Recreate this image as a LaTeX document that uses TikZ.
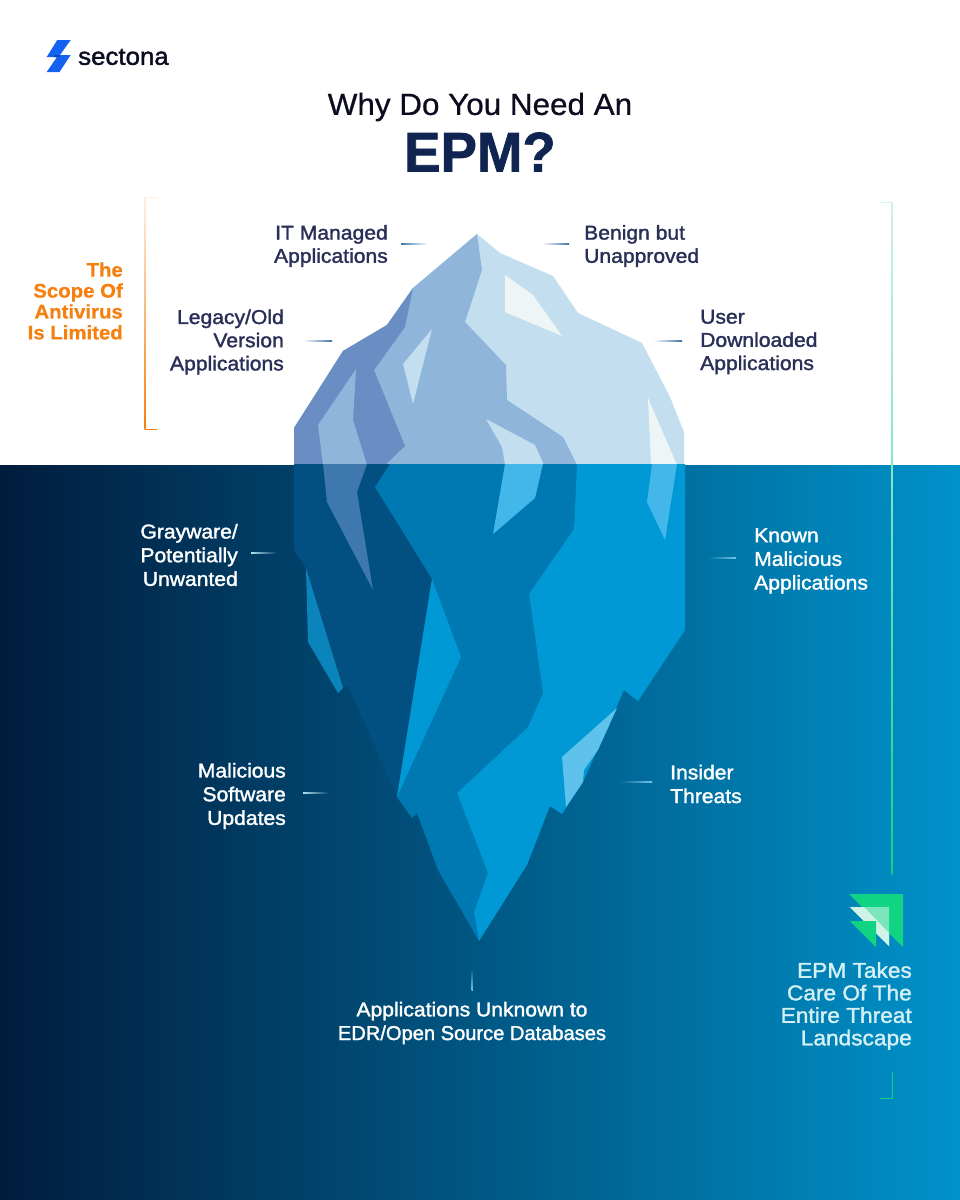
\documentclass[tikz,border=0pt]{standalone}
\usepackage{fontspec}
\usetikzlibrary{calc}
\setmainfont{Liberation Sans}
\newfontfamily\medfont[FakeBold=1.6,FakeStretch=1.055]{Liberation Sans}
\newfontfamily\narrowfont[FakeBold=1.6,FakeStretch=1.0]{Liberation Sans}
\newfontfamily\titlefont[FakeBold=0.7,FakeStretch=1.03]{Liberation Sans}
\newfontfamily\boldfont[FakeBold=1.2,FakeStretch=0.975]{Liberation Sans Bold}
\newfontfamily\orangefont[FakeBold=0.6,FakeStretch=1.04]{Liberation Sans Bold}
\definecolor{navy}{HTML}{2A2F57}
\definecolor{title}{HTML}{0F2450}
\definecolor{orangeT}{HTML}{F57F0F}
\definecolor{bgL}{HTML}{011C3D}
\definecolor{bgR}{HTML}{0092CA}
\definecolor{iLight}{HTML}{C3DFEF}
\definecolor{iMid}{HTML}{8FB5DB}
\definecolor{iDark}{HTML}{6A8EC3}
\definecolor{iWhite}{HTML}{EEF5F6}
\definecolor{uDark}{HTML}{015081}
\definecolor{uMid}{HTML}{0079B3}
\definecolor{uBright}{HTML}{0099D5}
\definecolor{uPatch}{HTML}{43B7E9}
\definecolor{uDarkPatch}{HTML}{3F78AC}
\definecolor{uSide}{HTML}{0A84BB}
\definecolor{greenA}{HTML}{10D384}
\definecolor{greenB}{HTML}{7CE5BC}
\definecolor{greenC}{HTML}{CFF3E6}
\definecolor{tickD}{HTML}{3F74A8}
\definecolor{epmT}{HTML}{D5F0F5}
\definecolor{logoB}{HTML}{1462F0}
\definecolor{ink}{HTML}{0B0C20}
\tikzset{
 x=1pt,y=-1pt,
 dark label/.style={font=\medfont\fontsize{20}{23.2}\selectfont,text=navy,inner sep=0pt,align=#1},
 lite label/.style={font=\medfont\fontsize{20}{23.7}\selectfont,text=white,inner sep=0pt,align=#1},
}
\begin{document}
\begin{tikzpicture}
\useasboundingbox (0,0) rectangle (960,1200);
\fill[white] (0,0) rectangle (960,1200);
\shade[left color=bgL,right color=bgR] (0,465) rectangle (960,1200);

% above water
\fill[iLight] (477,234)--(500,253)--(553,276)--(578,313)--(642,343)--(670,397)--(684,432)--(684,465)--(294,465)--(294,428)--(343,351)--(387,325)--(413,288)--cycle;
\fill[iMid] (477,234)--(482,270)--(465,322)--(506,365)--(507,400)--(563,437)--(577,465)--(294,465)--(294,428)--(343,351)--(387,325)--(413,288)--cycle;
\fill[iDark] (413,288)--(387,325)--(343,351)--(294,428)--(294,465)--(385,465)--(405,446)--(374,370)--(405,327)--cycle;
\fill[iMid] (356,369)--(318,425)--(323,465)--(367,465)--(353,420)--cycle;
\fill[iLight] (432,329)--(403,364)--(413,404)--cycle;
\fill[iWhite] (505,275)--(533,295)--(562,336)--(505,312)--cycle;
\fill[iLight] (486,419)--(535,445)--(544,465)--(505,465)--(502,447)--cycle;
\fill[iWhite] (648,398)--(677,465)--(651,465)--cycle;

% below water
\fill[uDark] (294,464)--(294,550)--(306,568)--(343,688)--(348,685)--(397,797)--(432,579)--(375,487)--(390,464)--cycle;
\fill[uSide] (306,568)--(308,642)--(338,693)--(343,688)--cycle;
\fill[uMid] (390,464)--(375,487)--(432,579)--(397,797)--(412,818)--(417,813)--(438,870)--(479,941)--(474,912)--(488,873)--(457,793)--(528,727)--(543,693)--(529,594)--(574,529)--(577,464)--cycle;
\fill[uBright] (432,579)--(461,657)--(397,797)--cycle;
\fill[uBright] (577,464)--(685,464)--(685,630)--(638,701)--(624,690)--(583,782)--(562,814)--(550,806)--(527,865)--(479,941)--(474,912)--(488,873)--(457,793)--(528,727)--(543,693)--(529,594)--(574,529)--cycle;
\fill[uDarkPatch] (323,464)--(367,464)--(357,492)--(373,590)--(327,502)--cycle;
\fill[uPatch] (505,464)--(543,464)--(535,498)--(493,534)--cycle;
\fill[uPatch] (652,464)--(677,464)--(665,540)--(647,502)--cycle;
\fill[uPatch!85!white] (617,708)--(562,757)--(566,807)--(583,782)--(584,770)--(598,750)--cycle;

% logo
\fill[logoB] (57.3,40)--(70.7,40)--(60,55)--(70.7,55)--(59.5,72)--(46.7,72)--(57,57)--(46.7,57)--cycle;
\fill[logoB!75!black] (54.5,55)--(60,55)--(59,57)--(53.5,57)--cycle;
\node[anchor=west,inner sep=0pt,text=ink] (logo) at (78,57) {\fontsize{24.5}{24}\selectfont\medfont sectona};

% title
\node[inner sep=0pt,text=ink] (t1) at (480,107) {\titlefont\fontsize{30.5}{30}\selectfont Why Do You Need An};
\node[inner sep=0pt,text=title] (t2) at (480,152) {\boldfont\fontsize{56}{56}\selectfont EPM?};

% orange side
\node[anchor=east,inner sep=0pt,text=orangeT,align=right,font=\fontsize{19.6}{20.9}\selectfont\orangefont] (scope) at (123,301) {The\\Scope Of\\Antivirus\\Is Limited};
\coordinate (oa) at (157,197); \coordinate (ob) at (145,197); \coordinate (oc) at (145,429); \coordinate (od) at (157,429);
\shade[top color=orangeT!12!white,bottom color=orangeT] (144.5,197) rectangle (145.7,429);
\fill[orangeT!12!white] ($(ob)+(0,-0.5)$) rectangle ($(oa)+(0,0.5)$);
\draw[orangeT,line width=1pt] (oc)--(od);

% right side
\coordinate (ga) at (881,202); \coordinate (gb) at (892,202); \coordinate (gc) at (892,874);
\shade[top color=greenC,bottom color=greenA] (891.4,202) rectangle (892.6,874);
\fill[greenC] (881,201.5) rectangle (892,202.5);
\coordinate (gd) at (892,1072); \coordinate (ge) at (892,1098); \coordinate (gf) at (880,1098);
\draw[greenA,line width=1pt] (gd)--(ge)--(gf);

% EPM mark
\fill[greenA] (849,894)--(903,894)--(903,947)--cycle;
\fill[greenB] (850,907)--(889,907)--(889,946)--cycle;
\fill[greenC] (850,907)--(864,907)--(889,933)--(889,946)--cycle;
\fill[greenA] (850,921)--(876,921)--(876,947)--cycle;

\node[anchor=east,inner sep=0pt,align=right,text=epmT,font=\fontsize{21.5}{22.5}\selectfont\medfont] (epm) at (912,1006) {EPM Takes\\Care Of The\\Entire Threat\\Landscape};

% labels above
\node[dark label=right,anchor=east] (l1) at (388,246) {IT Managed\\Applications};
\node[dark label=left,anchor=west] (l2) at (584,246) {Benign but\\Unapproved};
\node[dark label=right,anchor=east] (l3) at (284,342) {Legacy/Old\\Version\\Applications};
\node[dark label=left,anchor=west] (l4) at (700,342) {User\\Downloaded\\Applications};
% labels below
\node[lite label=right,anchor=east] (l5) at (238,555) {Grayware/\\Potentially\\Unwanted};
\node[lite label=left,anchor=west] (l6) at (754,561) {Known\\Malicious\\Applications};
\node[lite label=right,anchor=east] (l7) at (286,796) {Malicious\\Software\\Updates};
\node[lite label=left,anchor=west] (l8) at (670,784) {Insider\\Threats};
\node[lite label=center] (l9) at (472,1023) {Applications Unknown to\\{\narrowfont\fontsize{20.1}{23.7}\selectfont EDR/Open Source Databases}};

% ticks
\shade[left color=tickD,right color=white] (401,243.4) rectangle (428,244.6);
\shade[left color=white,right color=tickD] (542,243.4) rectangle (569,244.6);
\shade[left color=white,right color=tickD] (303,340.4) rectangle (332,341.6);
\shade[left color=white,right color=tickD] (653,340.4) rectangle (682,341.6);
\shade[left color=white!70!bgR,right color=bgR!28!bgL] (251,552.5) rectangle (277,553.7);
\shade[left color=bgR!74!bgL,right color=white!45!bgR] (708,557.5) rectangle (736,558.7);
\shade[left color=white!70!bgR,right color=bgR!33!bgL] (303,792.5) rectangle (329,793.7);
\shade[left color=bgR!65!bgL,right color=white!45!bgR] (620,781.5) rectangle (652,782.7);
\shade[top color=bgR!49!bgL,bottom color=white!45!bgR] (471.6,968) rectangle (472.8,990);
\end{tikzpicture}
\end{document}
